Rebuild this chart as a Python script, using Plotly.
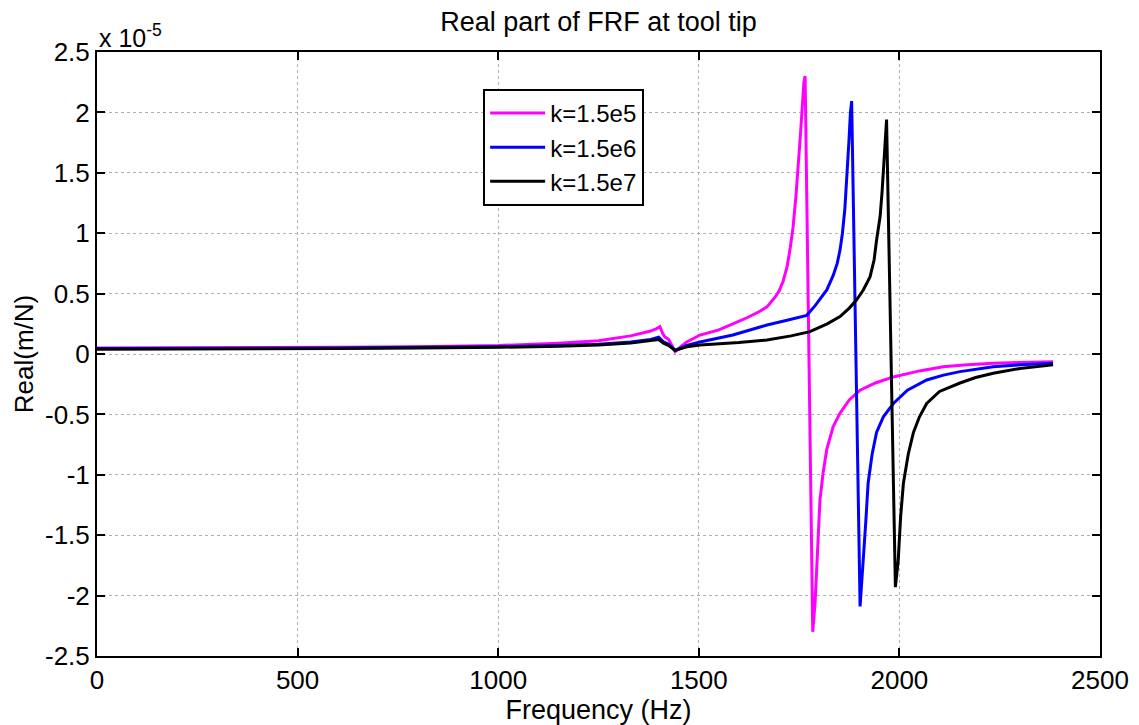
import plotly.graph_objects as go

# Frequencies (Hz) and real part values (units of 1e-5 m/N)
freq_m = [0, 200, 400, 600, 800, 1000, 1150, 1250, 1330, 1380, 1395, 1403, 1410, 1416, 1425, 1433, 1441,
          1455, 1470, 1503, 1550, 1585, 1620, 1650, 1670, 1690, 1700, 1710, 1720, 1728, 1735, 1742,
          1748, 1753, 1758, 1762, 1765, 1784, 1790, 1794, 1798, 1802, 1810, 1819, 1835, 1852, 1875,
          1902, 1940, 1985, 2050, 2109, 2170, 2234, 2300, 2383]
val_m = [0.05, 0.05, 0.05, 0.055, 0.06, 0.07, 0.09, 0.11, 0.15, 0.19, 0.21, 0.226, 0.17, 0.14, 0.12, 0.07, 0.02,
         0.06, 0.10, 0.157, 0.20, 0.25, 0.30, 0.35, 0.39, 0.47, 0.52, 0.60, 0.72, 0.88, 1.05, 1.30,
         1.55, 1.80, 2.05, 2.25, 2.30, -2.30, -2.05, -1.76, -1.45, -1.21, -0.98, -0.79, -0.60, -0.49, -0.38,
         -0.30, -0.24, -0.19, -0.14, -0.105, -0.09, -0.077, -0.07, -0.064]

freq_b = [0, 200, 400, 600, 800, 1000, 1150, 1250, 1330, 1380, 1400, 1412, 1425, 1441, 1470, 1503,
          1585, 1670, 1720, 1769, 1790, 1819, 1835, 1845, 1852, 1858, 1864, 1869, 1874, 1878, 1881,
          1902, 1906, 1910, 1916, 1922, 1932, 1943, 1960, 1985, 2020, 2068, 2110, 2151, 2234, 2300, 2383]
val_b = [0.045, 0.045, 0.05, 0.05, 0.055, 0.06, 0.07, 0.08, 0.10, 0.12, 0.14, 0.10, 0.08, 0.03, 0.07, 0.10,
         0.157, 0.24, 0.28, 0.32, 0.40, 0.53, 0.65, 0.75, 0.86, 1.0, 1.2, 1.45, 1.75, 2.0, 2.094,
         -2.09, -1.9, -1.76, -1.40, -1.07, -0.83, -0.65, -0.52, -0.41, -0.30, -0.215, -0.175, -0.146, -0.105,
         -0.09, -0.077]

freq_k = [0, 200, 400, 600, 800, 1000, 1150, 1250, 1330, 1380, 1400, 1412, 1425, 1441, 1470, 1503,
          1600, 1670, 1730, 1777, 1820, 1852, 1875, 1893, 1910, 1927, 1937, 1943, 1948, 1952, 1957,
          1960, 1964, 1968, 1990, 1994, 1997, 2003, 2010, 2022, 2035, 2050, 2068, 2100, 2151, 2190,
          2234, 2300, 2383]
val_k = [0.04, 0.04, 0.045, 0.045, 0.05, 0.055, 0.065, 0.075, 0.09, 0.11, 0.12, 0.09, 0.07, 0.03, 0.06, 0.075,
         0.095, 0.116, 0.15, 0.185, 0.25, 0.31, 0.38, 0.447, 0.53, 0.64, 0.78, 0.94, 1.05, 1.14, 1.35,
         1.5, 1.7, 1.94, -1.93, -1.80, -1.71, -1.35, -1.07, -0.83, -0.65, -0.52, -0.41, -0.31, -0.24, -0.195,
         -0.16, -0.12, -0.09]

series_names = ["k=1.5e5", "k=1.5e6", "k=1.5e7"]
series_colors = ["#FF00FF", "#0000FF", "#000000"]

x_ticks = [0, 500, 1000, 1500, 2000, 2500]
x_ticktext = ["0", "500", "1000", "1500", "2000", "2500"]
y_ticks = [-2.5, -2, -1.5, -1, -0.5, 0, 0.5, 1, 1.5, 2, 2.5]
y_ticktext = ["-2.5", "-2", "-1.5", "-1", "-0.5", "0", "0.5", "1", "1.5", "2", "2.5"]

FONT = "Liberation Sans, Arial, sans-serif"

fig = go.Figure()
for fx, fy, name, col in zip([freq_m, freq_b, freq_k], [val_m, val_b, val_k], series_names, series_colors):
    fig.add_trace(go.Scatter(x=fx, y=fy, mode="lines", name=name,
                             line=dict(color=col, width=3)))

axis_common = dict(
    showline=True, linecolor="black", linewidth=2, mirror="ticks",
    ticks="inside", ticklen=8, tickwidth=2, tickcolor="black",
    showgrid=True, gridcolor="#b0b0b0", gridwidth=1, griddash="dot",
    zeroline=False, automargin=False,
    tickfont=dict(family=FONT, size=26, color="black"),
)

fig.update_xaxes(range=[0, 2500], tickvals=x_ticks, ticktext=x_ticktext,
                 title=dict(text="Frequency (Hz)", font=dict(family=FONT, size=27, color="black"), standoff=0),
                 **axis_common)
fig.update_yaxes(range=[-2.5, 2.5], tickvals=y_ticks, ticktext=y_ticktext,
                 title=dict(text="Real(m/N)", font=dict(family=FONT, size=26, color="black"), standoff=4),
                 **axis_common)

fig.update_layout(
    width=1139, height=725,
    margin=dict(l=97, r=39, t=52, b=69),
    plot_bgcolor="white", paper_bgcolor="white",
    title=dict(text="Real part of FRF at tool tip", x=0.5255, xanchor="center", y=0.97, yanchor="middle",
               font=dict(family=FONT, size=27, color="black")),
    legend=dict(x=0.385, y=0.939, xanchor="left", yanchor="top",
                bgcolor="white", bordercolor="black", borderwidth=2,
                font=dict(family=FONT, size=24, color="black"),
                tracegroupgap=0, itemwidth=55),
    showlegend=True,
    annotations=[dict(text="x 10<sup>-5</sup>", xref="paper", yref="paper", x=0.0, y=1.0,
                      xanchor="left", yanchor="bottom", showarrow=False, yshift=-2,
                      font=dict(family=FONT, size=25, color="black"))],
)

fig.write_html("out.html", config={"displayModeBar": False},
               post_script="document.body.style.margin='0';document.body.style.overflow='hidden';")
